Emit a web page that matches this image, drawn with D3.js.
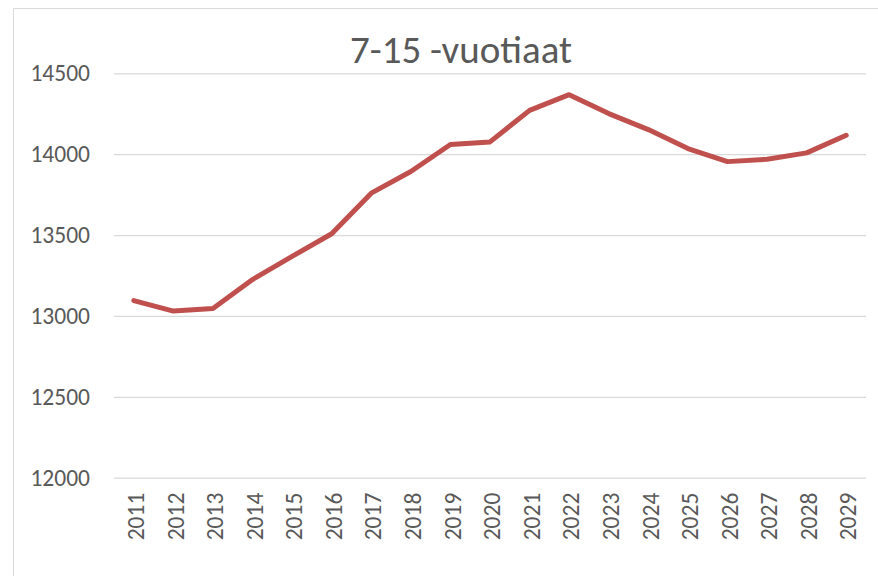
<!DOCTYPE html>
<html>
<head>
<meta charset="utf-8">
<script src="https://cdn.jsdelivr.net/npm/d3@7"></script>
<style>
  body { margin: 0; background: #fff; }
  text { font-family: Carlito, "Open Sans", sans-serif; fill: #595959; }
</style>
</head>
<body>
<svg></svg>
<script>
const years = ['2011', '2012', '2013', '2014', '2015', '2016', '2017', '2018', '2019', '2020',
               '2021', '2022', '2023', '2024', '2025', '2026', '2027', '2028', '2029']
const values = [13095, 13030, 13046, 13225, 13368, 13508, 13759, 13893, 14060, 14076,
                14271, 14368, 14251, 14152, 14035, 13954, 13969, 14008, 14117]
const yTicks = [12000, 12500, 13000, 13500, 14000, 14500]
const title = '7-15 -vuotiaat'

const width = 878
const height = 576
const plot = { left: 114, right: 866, top: 73.3, bottom: 477.7 }

const svg = d3.select('svg')
    .attr('width', width)
    .attr('height', height)

// chart area frame (only top + left edges visible in the crop)
svg.append('path')
    .attr('d', `M13.5,${height} V8.5 H${width}`)
    .attr('fill', 'none')
    .attr('stroke', '#d9d9d9')
    .attr('stroke-width', 1)

const xScale = d3.scaleBand()
    .domain(years)
    .range([plot.left, plot.right])
const yScale = d3.scaleLinear()
    .domain([12000, 14500])
    .range([plot.bottom, plot.top])

// gridlines + y labels
const yAxis = d3.axisLeft(yScale)
    .tickValues(yTicks)
    .tickFormat(d3.format('d'))
    .tickSize(-(plot.right - plot.left))
    .tickPadding(24)
svg.append('g')
    .attr('transform', `translate(${plot.left}, 0)`)
    .call(yAxis)
    .call(g => g.select('.domain').remove())
    .call(g => g.selectAll('line').attr('stroke', '#d9d9d9').attr('stroke-width', 1.2))
    .call(g => g.selectAll('text').style('font-size', '23.5px').attr('fill', '#595959'))

// x labels, rotated
const xAxis = d3.axisBottom(xScale).tickSize(0)
svg.append('g')
    .attr('transform', `translate(0, ${plot.bottom})`)
    .call(xAxis)
    .call(g => g.select('.domain').remove())
    .call(g => g.selectAll('text')
        .style('font-size', '23.5px')
        .attr('fill', '#595959')
        .attr('text-anchor', 'end')
        .attr('transform', 'rotate(-90)')
        .attr('x', -15)
        .attr('y', 2)
        .attr('dy', '0.35em'))

const line = d3.line()
    .x((d, i) => xScale(years[i]) + xScale.bandwidth() / 2)
    .y(d => yScale(d))

svg.append('path')
    .datum(values)
    .attr('d', line)
    .attr('fill', 'none')
    .attr('stroke', '#c0504d')
    .attr('stroke-width', 5)
    .attr('stroke-linejoin', 'round')
    .attr('stroke-linecap', 'round')

svg.append('text')
    .attr('x', 461)
    .attr('y', 63)
    .attr('text-anchor', 'middle')
    .style('font-size', '39px')
    .text(title)
</script>
</body>
</html>
